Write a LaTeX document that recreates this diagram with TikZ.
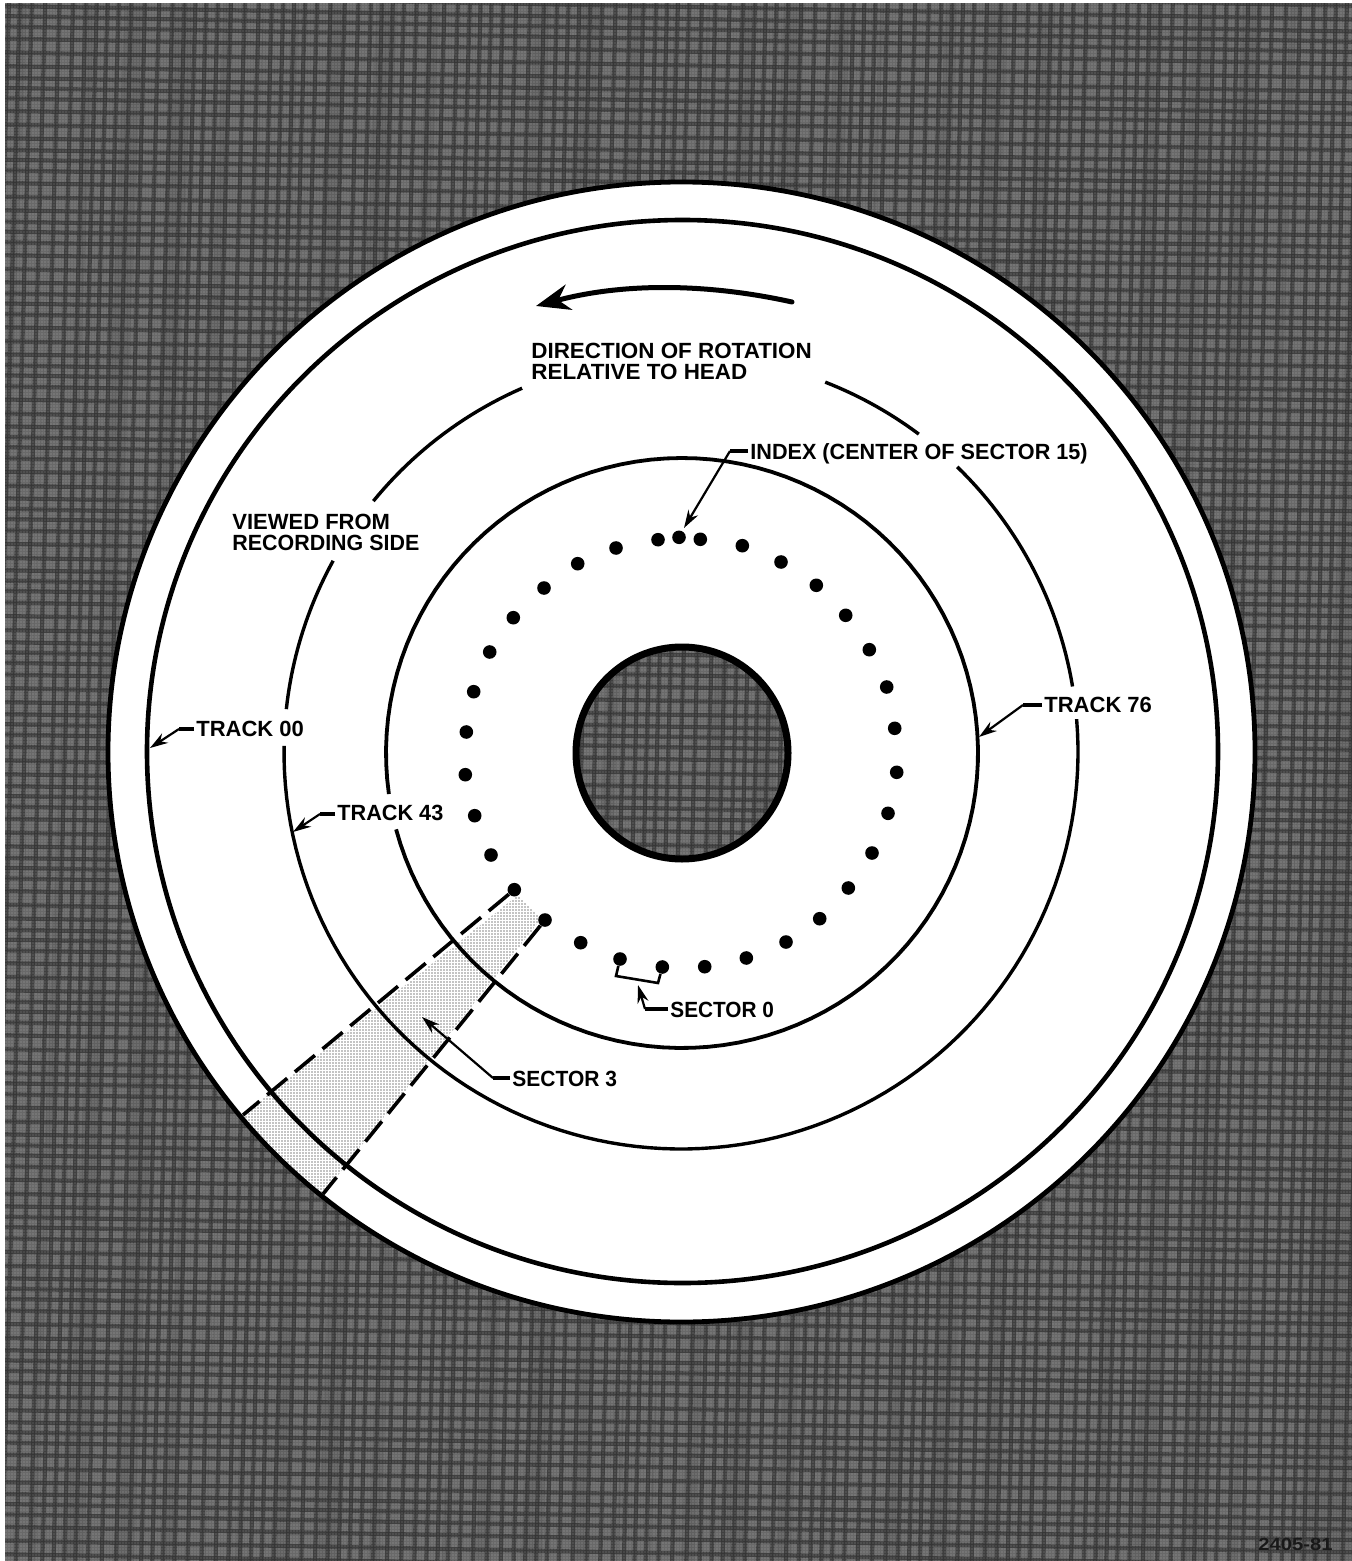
\documentclass[tikz,border=0pt]{standalone}
\usepackage{fontspec}
\usepackage{graphicx}
\setmainfont{Liberation Sans}
\usetikzlibrary{arrows.meta,patterns.meta}
\definecolor{bgbase}{HTML}{606060}
\definecolor{bgdark}{HTML}{333333}
\definecolor{bglight}{HTML}{808080}
\newcommand{\hs}[2]{\scalebox{#1}[1]{#2}}
\tikzset{
  lbl/.style={anchor=base west,inner sep=0pt,font=\fontsize{11}{10.5}\selectfont\bfseries,align=left},
  hole/.style={circle,fill=black,inner sep=0pt,minimum size=6.8pt},
  trackline/.style={line width=1.7pt,line cap=butt},
  leader/.style={line width=1.1pt,-{Stealth[length=9pt,width=5.6pt]}},
  stub/.style={line width=1.9pt},
  sectorcut/.style={line width=1.8pt,dash pattern=on 13pt off 5pt},
}
\begin{document}
\begin{tikzpicture}[x=0.5pt,y=-0.5pt]
\useasboundingbox (0,0) rectangle (1352,1561);
% background texture
\begin{scope}
\clip (5,4) rectangle (1352,1561);
\fill[bgbase] (0,0) rectangle (1352,1561);
\foreach \k in {0,...,34}{
  \fill[bglight,opacity=.3] ({\k*41-60+9*sin(\k*70)},-10) -- ({\k*41-30+9*sin(\k*70)},-10) -- ({\k*41-90+9*sin(\k*70)},1570) -- ({\k*41-120+9*sin(\k*70)},1570) -- cycle;
}
\foreach \k in {0,...,118}{
  \draw[bgdark,line width=2.1pt,opacity=.75] ({\k*12.4-40+2.2*sin(\k*47)},-10) -- ({\k*12.4-84+2.2*sin(\k*47)},1570);
}
\foreach \k in {0,...,136}{
  \draw[bgdark,line width=2.1pt,opacity=.75] (-10,{\k*12-20+2*sin(\k*61)}) -- (1360,{\k*12+6+2*sin(\k*61)});
}
\fill[pattern={Dots[distance=1.5pt,radius=0.3pt]},pattern color=white,opacity=.35] (0,0) rectangle (1352,1561);
\end{scope}
% disc with hub hole
\fill[white,even odd rule] (681.5,752) circle [x radius=286.75pt,y radius=285pt]
  (682,753) circle [radius=53pt];
% dots
\foreach \i/\x/\y in {1/679/537.3,2/700.3/539.3,3/742.3/545.7,4/781/562,5/816.3/585.3,6/845.7/615.3,7/869.3/649.7,8/886.7/687,9/894.7/728.3,10/896.7/772.3,11/888/813.3,12/872/853,13/848.3/888,14/819.7/918.7,15/786/942,16/746.3/958,17/704.7/966.7,18/662.3/967,19/620/959,20/580.7/942.7,21/545/920,22/514.3/889.7,23/491/855,24/474.7/815.7,25/465.3/774.7,26/466.3/732,27/473.7/691.7,28/489.7/652,29/513.3/617.7,30/544/588,31/577.7/563.7,32/616/548,33/658/539.7}{
  \node[hole] (d\i) at (\x,\y) {};
}
% sector 3
\coordinate (secA) at (243,1115);
\coordinate (secB) at (323,1194);
\begin{scope}
\clip (681.5,752) circle [x radius=286.75pt,y radius=285pt];
\fill[pattern={Dots[distance=1.5pt,radius=0.35pt]},pattern color=black] (518,895) -- (229,1126) -- (312,1208) -- (541,919) -- cycle;
\end{scope}
\draw[sectorcut] (d22) -- (secA);
\draw[sectorcut] (d21) -- (secB);
% tracks
\draw[line width=2.4pt] (681.5,752) circle [x radius=286.75pt,y radius=285pt];
\draw[line width=2.3pt] (682.5,751.5) circle [x radius=267.75pt,y radius=265.75pt];
\draw[line width=3.5pt] (682,753) circle [radius=53pt];
\draw[trackline,line width=1.9pt] plot[domain=195:548,samples=120] ({682+296*cos(\x)},{753-295*sin(\x)});
\draw[trackline] plot[domain=113.6:140.8,samples=24] ({681+397*cos(\x)},{752-397*sin(\x)});
\draw[trackline] plot[domain=151.2:173.8,samples=24] ({681+397*cos(\x)},{752-397*sin(\x)});
\draw[trackline] plot[domain=179.1:364.75,samples=100] ({681+397*cos(\x)},{752-397*sin(\x)});
\draw[trackline] plot[domain=9.5:45.9,samples=30] ({681+397*cos(\x)},{752-397*sin(\x)});
\draw[trackline] plot[domain=53.2:68.7,samples=16] ({681+397*cos(\x)},{752-397*sin(\x)});
% rotation arrow
\coordinate (rotA) at (792,302);
\coordinate (rotB) at (536,306);
\draw[line width=2.5pt,line cap=round,-{Stealth[length=17pt,width=13pt]}] (rotA) .. controls (715,285) and (630,281) .. (rotB);
% labels
\node[lbl] (ldir) at (531,358.5) {\hs{1.018}{DIRECTION OF ROTATION}};
\node[lbl] (lrel) at (531,379.5) {\hs{1.019}{RELATIVE TO HEAD}};
\node[lbl] (lview) at (232,529) {VIEWED FROM};
\node[lbl] (lrec) at (232,550.5) {\hs{.974}{RECORDING SIDE}};
\node[lbl] (lidx) at (750,459) {\hs{.983}{INDEX (CENTER OF SECTOR 15)}};
\node[lbl] (lt76) at (1044,712) {TRACK 76};
\node[lbl] (lt00) at (196,736) {TRACK 00};
\node[lbl] (lt43) at (337,820) {\hs{.985}{TRACK 43}};
\node[lbl] (ls0) at (670,1017) {\hs{.945}{SECTOR 0}};
\node[lbl] (ls3) at (512,1086) {\hs{.954}{SECTOR 3}};
\node[anchor=base west,inner sep=0pt,font=\fontsize{8.8}{9}\selectfont\bfseries,text=black!90] (lnum) at (1258,1550) {\hs{1.15}{2405-81}};
% leaders
\coordinate (e00) at (179,729);
\coordinate (t00) at (150,748);
\coordinate (e43) at (320,814);
\coordinate (t43) at (293,832);
\coordinate (e76) at (1023,705);
\coordinate (t76) at (979,737);
\coordinate (eidx) at (730,451);
\coordinate (tidx) at (684,528);
\coordinate (es3) at (493,1078);
\coordinate (ts3) at (422,1017);
\coordinate (es0) at (645,1009);
\coordinate (ts0) at (638,985);
\draw[stub] (lt00.west |- e00) ++(-2,0) -- (e00);
\draw[leader] (e00) -- (t00);
\draw[stub] (lt43.west |- e43) ++(-2,0) -- (e43);
\draw[leader] (e43) -- (t43);
\draw[stub] (lt76.west |- e76) ++(-2,0) -- (e76);
\draw[leader] (e76) -- (t76);
\draw[stub] (lidx.west |- eidx) ++(-2,0) -- (eidx);
\draw[leader] (eidx) -- (tidx);
\draw[stub] (ls3.west |- es3) ++(-2,0) -- (es3);
\draw[leader] (es3) -- (ts3);
\draw[stub] (ls0.west |- es0) ++(-2,0) -- (es0);
\draw[leader] (es0) -- (ts0);
% sector 0 bracket
\coordinate (b1) at (616,976);
\coordinate (b2) at (658,983);
\draw[line width=1.3pt,line join=miter] (d19) -- (b1) -- (b2) -- (d18);
\end{tikzpicture}
\end{document}
